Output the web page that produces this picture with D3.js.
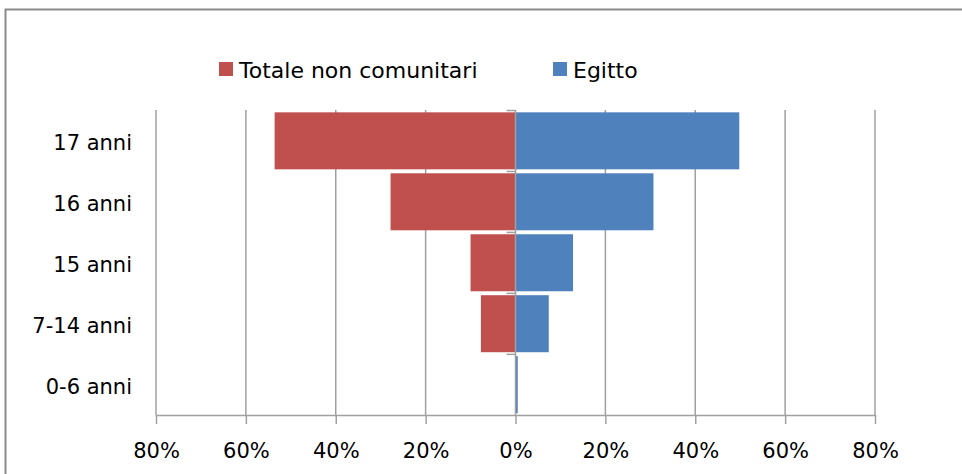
<!DOCTYPE html>
<html>
<head>
<meta charset="utf-8">
<script src="https://cdn.jsdelivr.net/npm/d3@7"></script>
<style>
  html, body { margin: 0; padding: 0; background: #fff; }
  svg { display: block; }
  text { font-family: "DejaVu Sans", Verdana, sans-serif; fill: #000; }
</style>
</head>
<body>
<svg id="chart" width="962" height="474"></svg>
<script>
const categories = ["17 anni", "16 anni", "15 anni", "7-14 anni", "0-6 anni"];
const totaleNonComunitari = [53.6, 27.8, 10.0, 7.7, 0.0];
const egitto = [49.8, 30.7, 12.8, 7.4, 0.5];
const seriesNames = ["Totale non comunitari", "Egitto"];
const seriesColors = ["#C0504D", "#4F81BD"];
const tickValues = [-80, -60, -40, -20, 0, 20, 40, 60, 80];

const svg = d3.select("#chart");
const W = 962, H = 474;

// chart outer border
svg.append("rect")
  .attr("x", 5.5).attr("y", 9.5)
  .attr("width", W + 10).attr("height", H + 10)
  .attr("fill", "none").attr("stroke", "#8a8a8a").attr("stroke-width", 2);

const x = d3.scaleLinear().domain([-80, 80]).range([156, 875]);
const y = d3.scaleBand().domain(categories).range([110.5, 415])
  .paddingInner(0.065).paddingOuter(0.03);

const gridColor = "#a0a0a0";

// vertical gridlines
svg.append("g").selectAll("line").data(tickValues.filter(d => d !== 0)).join("line")
  .attr("x1", d => x(d)).attr("x2", d => x(d))
  .attr("y1", 110).attr("y2", 415)
  .attr("stroke", gridColor).attr("stroke-width", 1.5);

// bottom axis
const xAxis = d3.axisBottom(x).tickValues(tickValues)
  .tickFormat(d => Math.abs(d) + "%").tickSize(9).tickSizeOuter(0).tickPadding(19);
const gx = svg.append("g").attr("transform", "translate(0,415)").call(xAxis);
gx.select(".domain").attr("stroke", gridColor).attr("stroke-width", 1.5);
gx.selectAll(".tick line").attr("stroke", gridColor).attr("stroke-width", 1.5);
gx.selectAll(".tick text").style("font-size", "21px").style("font-family", "DejaVu Sans, sans-serif").attr("fill", "#000");

// bars
const rows = categories.map((c, i) => ({ cat: c, left: totaleNonComunitari[i], right: egitto[i] }));
svg.append("g").selectAll("rect").data(rows).join("rect")
  .attr("x", d => x(-d.left)).attr("y", d => y(d.cat))
  .attr("width", d => x(0) - x(-d.left)).attr("height", y.bandwidth())
  .attr("fill", seriesColors[0]);
svg.append("g").selectAll("rect").data(rows).join("rect")
  .attr("x", x(0)).attr("y", d => y(d.cat))
  .attr("width", d => x(d.right) - x(0)).attr("height", y.bandwidth())
  .attr("fill", seriesColors[1]);

// vertical category axis at 0
const step = y.step();
const boundaries = d3.range(categories.length + 1).map(i => 110.5 + i * step);
svg.append("line")
  .attr("x1", x(0)).attr("x2", x(0)).attr("y1", 110).attr("y2", 415)
  .attr("stroke", gridColor).attr("stroke-width", 1.5);
svg.append("g").selectAll("line").data(boundaries.slice(0, -1)).join("line")
  .attr("x1", x(0) - 9).attr("x2", x(0))
  .attr("y1", d => d).attr("y2", d => d)
  .attr("stroke", gridColor).attr("stroke-width", 1.5);

// category labels
svg.append("g").selectAll("text").data(categories).join("text")
  .attr("x", 132).attr("y", d => y(d) + y.bandwidth() / 2 + 2)
  .attr("text-anchor", "end").attr("dominant-baseline", "central")
  .style("font-size", "21px").text(d => d);

// legend
const legendItems = [
  { name: seriesNames[0], color: seriesColors[0], x: 219 },
  { name: seriesNames[1], color: seriesColors[1], x: 553 }
];
const lg = svg.append("g").selectAll("g").data(legendItems).join("g")
  .attr("transform", d => `translate(${d.x},62)`);
lg.append("rect").attr("width", 14).attr("height", 14).attr("fill", d => d.color);
lg.append("text").attr("x", 20).attr("y", 8).attr("dominant-baseline", "central")
  .style("font-size", "22px").text(d => d.name);
</script>
</body>
</html>
